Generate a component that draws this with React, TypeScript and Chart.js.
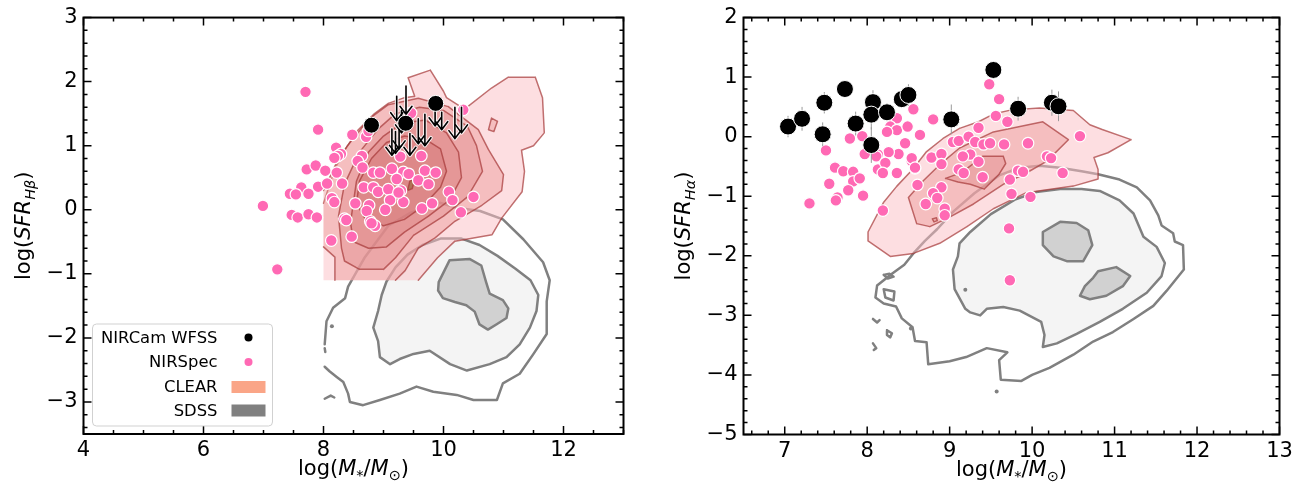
import React, { useEffect, useRef } from 'react';
import { Chart, registerables } from 'chart.js';

Chart.register(...registerables);

type Pt = [number, number];

const FAMILY = "'DejaVu Sans', 'Liberation Sans', sans-serif";

// ---------------- Left panel: SFR from H-beta ----------------
const hbMassTicks = [4, 6, 8, 10, 12];
const hbSfrTicks = [-3, -2, -1, 0, 1, 2, 3];

const hbNirspec: Pt[] = [
  [7.70, 1.84], [7.91, 1.25], [8.48, 1.17], [8.71, 1.14], [8.75, 1.23], [8.21, 0.97], [8.29, 0.87],
  [8.24, 0.84], [8.18, 0.81], [8.64, 0.84], [8.57, 0.76], [7.72, 0.63], [7.87, 0.69], [8.03, 0.61],
  [8.22, 0.58], [8.65, 0.66], [8.83, 0.58], [8.94, 0.58], [9.14, 0.64], [9.33, 0.59], [9.42, 0.56],
  [9.28, 0.83], [9.63, 0.84], [9.69, 0.61], [9.87, 0.58], [7.63, 0.35], [7.44, 0.25], [7.54, 0.24],
  [7.75, 0.25], [7.91, 0.36], [8.06, 0.41], [8.31, 0.41], [8.67, 0.35], [8.83, 0.35], [8.91, 0.28],
  [9.08, 0.32], [9.22, 0.48], [9.58, 0.46], [9.75, 0.40], [8.14, 0.18], [8.18, 0.12], [8.53, 0.10],
  [8.76, 0.07], [9.11, 0.15], [9.33, 0.12], [9.29, 0.30], [9.64, 0.02], [9.81, 0.10], [10.09, 0.28],
  [10.15, 0.15], [10.29, -0.04], [10.50, 0.20], [7.47, -0.08], [7.57, -0.12], [7.75, -0.07],
  [7.89, -0.12], [8.35, -0.14], [8.72, -0.02], [8.78, -0.18], [8.86, -0.25], [9.03, 0.00],
  [8.47, -0.42], [8.13, -0.48], [7.23, -0.93], [6.99, 0.06], [10.33, 1.56], [9.46, 1.51],
  [8.38, -0.16], [8.80, -0.21], [9.25, 0.27],
];
const hbWfss: Pt[] = [[8.80, 1.32], [9.37, 1.35], [9.87, 1.66]];

// upper limits: arrow from the limit value down to its tip
const hbLimitMass = [9.22, 9.375, 9.30, 9.14, 9.20, 9.26, 9.44, 9.58, 9.69, 9.86, 9.97, 10.19, 10.30];
const hbLimitTop = [1.77, 1.93, 1.55, 1.26, 1.22, 1.28, 1.19, 1.42, 1.49, 1.54, 1.52, 1.60, 1.60];
const hbLimitTip = [1.39, 1.49, 1.20, 0.85, 0.88, 0.95, 0.85, 1.03, 1.00, 1.31, 1.25, 1.11, 1.20];

// CLEAR density contours (outermost first)
const hbClear: Pt[][] = [
  [[8.0, -1.1], [8.0, 0.1], [8.08, 0.33], [8.19, 0.64], [8.36, 0.94], [8.58, 1.25], [8.85, 1.5], [9.08, 1.66],
   [9.35, 1.75], [9.52, 1.77], [9.41, 2.06], [9.78, 2.18], [10.0, 1.85], [10.05, 1.75], [10.35, 1.57],
   [10.8, 1.9], [11.08, 2.07], [11.53, 2.07], [11.65, 1.75], [11.68, 1.2], [11.5, 1.0], [11.3, 0.93],
   [11.35, 0.6], [11.31, 0.28], [10.97, -0.13], [10.81, -0.39], [10.19, -0.49], [9.9, -0.75], [9.58, -1.1]],
  [[8.19, -1.1], [8.19, -0.74], [8.0, -0.58], [8.0, 0.3], [8.2, 0.7], [8.4, 1.0], [8.75, 1.41], [9.08, 1.64],
   [9.58, 1.74], [10.08, 1.61], [10.58, 1.25], [10.75, 0.94], [11.0, 0.55], [10.97, 0.3], [10.64, 0.07],
   [10.19, -0.18], [9.86, -0.44], [9.58, -0.6], [9.36, -0.95], [9.2, -1.1]],
  [[8.3, -0.6], [8.35, -0.8], [8.6, -0.93], [9.0, -0.93], [9.2, -0.75], [9.5, -0.4], [10.0, -0.1], [10.4, 0.2],
   [10.65, 0.6], [10.55, 1.0], [10.4, 1.3], [10.0, 1.55], [9.6, 1.6], [9.2, 1.5], [8.9, 1.25], [8.6, 0.9],
   [8.35, 0.4], [8.25, -0.1]],
  [[8.45, -0.2], [8.5, -0.5], [8.75, -0.6], [9.05, -0.58], [9.35, -0.35], [9.75, -0.1], [10.1, 0.15],
   [10.3, 0.5], [10.25, 0.9], [10.05, 1.2], [9.7, 1.4], [9.3, 1.35], [9.0, 1.15], [8.75, 0.9], [8.55, 0.45]],
  [[8.55, 0.1], [8.7, -0.15], [9.0, -0.25], [9.35, -0.15], [9.65, 0.05], [9.95, 0.35], [10.05, 0.6],
   [9.95, 0.95], [9.7, 1.1], [9.35, 1.15], [9.05, 1.05], [8.8, 0.8], [8.6, 0.45]],
  [[9.4, 0.3], [9.48, 0.33], [9.52, 0.48], [9.44, 0.45]],
  [[10.75, 1.25], [10.8, 1.43], [10.9, 1.38], [10.84, 1.22]],
];
const hbClearLevel = [0, 1, 2, 3, 4, 5, 1];

// SDSS contours
const hbSdssLines: Pt[][] = [
  [[8.02, -2.1], [8.05, -1.74], [8.16, -1.53], [8.36, -1.38], [8.41, -1.2], [8.69, -0.74], [9.08, -0.25],
   [9.44, -0.05], [9.94, 0.11], [10.22, 0.03], [10.61, -0.02], [10.99, -0.15], [11.33, -0.46], [11.66, -0.82],
   [11.77, -1.1], [11.72, -1.43], [11.72, -1.94], [11.5, -2.25], [11.27, -2.56], [10.99, -2.71], [10.89, -2.97],
   [10.5, -2.97], [10.22, -2.89], [9.83, -2.84], [9.55, -2.76], [9.27, -2.87], [8.94, -2.97], [8.66, -3.05],
   [8.44, -3.0], [8.41, -2.87], [8.33, -2.69], [8.22, -2.61], [8.1, -2.52], [8.02, -2.45]],
  [[8.02, -2.95], [8.12, -2.9], [8.18, -2.93]],
  [[8.02, -2.16], [8.03, -2.22]],
];
const hbSdssMiddle: Pt[] = [
  [9.05, -1.12], [9.2, -0.9], [9.4, -0.7], [9.65, -0.55], [9.95, -0.45], [10.3, -0.45], [10.6, -0.55],
  [10.9, -0.72], [11.2, -0.92], [11.45, -1.1], [11.58, -1.33], [11.55, -1.58], [11.44, -1.84], [11.27, -2.1],
  [11.05, -2.3], [10.77, -2.41], [10.39, -2.51], [10.11, -2.41], [9.77, -2.2], [9.5, -2.25], [9.27, -2.33],
  [9.11, -2.41], [8.94, -2.3], [8.91, -2.05], [8.83, -1.84], [8.91, -1.58], [8.97, -1.33],
];
const hbSdssInner: Pt[][] = [
  [[9.92, -1.13], [10.1, -0.79], [10.44, -0.77], [10.63, -0.87], [10.71, -1.13], [10.77, -1.31], [10.99, -1.41],
   [11.08, -1.54], [11.05, -1.69], [10.88, -1.79], [10.74, -1.87], [10.6, -1.79], [10.52, -1.59], [10.38, -1.49],
   [10.19, -1.44], [9.99, -1.38], [9.91, -1.26]],
];
const hbSdssDots: Pt[] = [[8.14, -1.82]];

// ---------------- Right panel: SFR from H-alpha ----------------
const haMassTicks = [7, 8, 9, 10, 11, 12, 13];
const haSfrTicks = [-5, -4, -3, -2, -1, 0, 1, 2];

const haNirspec: Pt[] = [
  [9.48, 0.88], [9.60, 0.63], [9.56, 0.35], [9.70, 0.25], [9.35, 0.15], [8.80, 0.29], [8.56, 0.46],
  [8.64, 0.03], [8.46, -0.11], [8.38, -0.29], [8.26, -0.26], [8.13, -0.30], [8.30, 0.30], [8.36, 0.31],
  [8.28, 0.17], [8.36, 0.11], [8.24, 0.08], [8.49, 0.17], [7.89, 0.17], [7.94, 0.01], [7.79, -0.03],
  [7.50, -0.23], [7.97, -0.29], [8.09, -0.14], [8.11, -0.33], [8.13, -0.55], [8.22, -0.44], [8.19, -0.61],
  [8.36, -0.61], [8.54, -0.41], [8.58, -0.53], [7.61, -0.52], [7.71, -0.58], [7.83, -0.59], [7.83, -0.75],
  [7.77, -0.90], [7.91, -0.70], [7.54, -0.79], [7.64, -1.02], [7.62, -1.07], [7.95, -0.99], [7.30, -1.12],
  [8.61, -0.81], [9.04, -0.09], [9.11, -0.07], [9.23, 0.00], [9.31, -0.09], [9.41, -0.13], [9.49, -0.11],
  [9.66, -0.13], [8.78, -0.35], [8.90, -0.29], [8.90, -0.46], [9.11, -0.55], [9.17, -0.61], [9.25, -0.30],
  [9.35, -0.42], [9.40, -0.68], [9.73, -0.72], [8.90, -0.85], [8.80, -0.95], [8.85, -1.03], [8.71, -1.13],
  [10.58, 0.01], [10.18, -0.33], [10.23, -0.36], [10.37, -0.61], [9.95, -0.11], [9.83, -0.57], [9.89, -0.59],
  [9.75, -0.96], [9.98, -1.01], [9.72, -1.54], [9.73, -2.41], [9.16, -0.33], [8.54, -0.36], [8.94, -1.21],
  [8.94, -1.32], [8.19, -1.24], [8.58, -0.52],
];
const haWfss: Pt[] = [
  [7.04, 0.17], [7.21, 0.30], [7.48, 0.57], [7.46, 0.04], [7.73, 0.80], [7.86, 0.22], [8.07, 0.58],
  [8.05, 0.37], [8.24, 0.41], [8.05, -0.14], [8.42, 0.63], [8.50, 0.70], [9.02, 0.29], [9.53, 1.12],
  [9.83, 0.47], [10.24, 0.57], [10.32, 0.51],
];
const haWfssErr = [0.18, 0.2, 0.18, 0.2, 0.1, 0.2, 0.2, 0.25, 0.15, 0.3, 0.15, 0.18, 0.25, 0.1, 0.2, 0.22, 0.25];

const haClear: Pt[][] = [
  [[8.01, -1.6], [8.2, -1.1], [8.36, -0.83], [8.55, -0.55], [8.72, -0.25], [8.92, -0.03], [9.12, 0.14],
   [9.35, 0.25], [9.53, 0.38], [9.75, 0.45], [10.09, 0.48], [10.5, 0.44], [10.7, 0.2], [10.85, 0.12],
   [11.2, -0.05], [10.92, -0.27], [10.75, -0.35], [10.8, -0.55], [10.8, -0.71], [10.5, -0.83], [9.93, -0.94],
   [9.53, -1.21], [9.21, -1.51], [8.88, -1.79], [8.56, -1.96], [8.28, -2.01], [8.01, -1.75]],
  [[8.6, -1.46], [8.5, -1.02], [8.68, -0.74], [8.88, -0.47], [9.12, -0.19], [9.53, 0.08], [10.13, 0.25],
   [10.44, -0.05], [10.18, -0.41], [9.93, -0.61], [9.65, -0.8], [9.29, -1.13], [9.0, -1.35], [8.76, -1.51]],
  [[8.95, -0.7], [9.15, -0.6], [9.4, -0.33], [9.65, -0.33], [9.68, -0.45], [9.6, -0.63], [9.42, -0.88],
   [9.25, -0.8], [9.1, -0.76]],
  [[8.79, -1.38], [8.84, -1.36], [8.85, -1.41], [8.81, -1.43]],
];
const haClearLevel = [0, 1, 2, 2];

const haSdssLines: Pt[][] = [
  [[8.56, -1.96], [8.7, -1.75], [8.85, -1.55], [9.05, -1.25], [9.3, -0.95], [9.6, -0.65], [9.85, -0.52],
   [10.09, -0.49], [10.34, -0.52], [10.6, -0.58], [10.8, -0.63], [11.06, -0.72], [11.27, -0.85], [11.43, -1.07],
   [11.53, -1.32], [11.57, -1.49], [11.71, -1.62], [11.73, -1.76], [11.83, -1.82], [11.84, -2.23],
   [11.73, -2.42], [11.63, -2.59], [11.47, -2.84], [11.23, -3.06], [10.98, -3.28], [10.74, -3.44],
   [10.5, -3.66], [10.21, -3.88], [10.0, -4.0], [9.87, -4.1], [9.62, -4.08], [9.6, -3.75], [9.7, -3.62],
   [9.45, -3.55], [9.2, -3.7], [9.0, -3.77], [8.74, -3.82], [8.72, -3.45], [8.58, -3.43], [8.55, -3.2],
   [8.42, -3.05], [8.35, -2.85], [8.2, -2.8], [8.1, -2.7], [8.12, -2.5], [8.3, -2.3], [8.45, -2.15], [8.56, -1.96]],
  [[8.2, -2.32], [8.27, -2.3], [8.32, -2.35], [8.25, -2.38], [8.2, -2.32]],
  [[8.2, -2.56], [8.33, -2.6], [8.32, -2.75], [8.22, -2.7], [8.2, -2.56]],
  [[8.07, -3.06], [8.12, -3.12], [8.15, -3.08]],
  [[8.24, -3.25], [8.3, -3.3], [8.28, -3.37], [8.24, -3.33], [8.24, -3.25]],
  [[8.07, -3.47], [8.11, -3.55], [8.08, -3.58]],
];
const haSdssMiddle: Pt[] = [
  [9.12, -1.79], [9.25, -1.6], [9.5, -1.3], [9.8, -1.05], [10.05, -0.93], [10.34, -0.88], [10.6, -0.88],
  [10.82, -0.91], [11.06, -1.07], [11.23, -1.29], [11.35, -1.68], [11.51, -1.85], [11.61, -2.12], [11.57, -2.34],
  [11.39, -2.62], [11.1, -2.89], [10.82, -3.11], [10.54, -3.31], [10.3, -3.47], [10.13, -3.53], [10.15, -3.33],
  [10.11, -3.11], [9.85, -2.92], [9.65, -2.86], [9.45, -2.89], [9.37, -3.0], [9.25, -2.95], [9.19, -2.89],
  [9.06, -2.56], [9.04, -2.23], [9.1, -2.01],
];
const haSdssInner: Pt[][] = [
  [[10.34, -1.43], [10.54, -1.45], [10.68, -1.57], [10.73, -1.82], [10.62, -2.09], [10.42, -2.09],
   [10.26, -2.01], [10.13, -1.82], [10.13, -1.6]],
  [[10.8, -2.26], [11.02, -2.19], [11.19, -2.34], [11.1, -2.51], [10.9, -2.67], [10.7, -2.73], [10.58, -2.67],
   [10.64, -2.51], [10.74, -2.37]],
];
const haSdssDots: Pt[] = [[9.19, -2.57], [8.53, -3.22], [9.57, -4.28]];

const legendLabels = ['NIRCam WFSS', 'NIRSpec', 'CLEAR', 'SDSS'];

// ---------------- styling ----------------
const PINK = '#ff69b4';
const CLEAR_FILLS = [
  'rgba(252,190,196,0.5)',
  'rgba(235,150,150,0.45)',
  'rgba(225,135,135,0.42)',
  'rgba(215,120,120,0.35)',
  'rgba(205,110,110,0.35)',
  'rgba(160,110,70,0.75)',
];
const CLEAR_EDGE = 'rgba(165,55,55,0.7)';
const SDSS_EDGE = '#808080';

interface Panel {
  width: number;
  height: number;
  area: { left: number; right: number; top: number; bottom: number };
  xMin: number; xMax: number; yMin: number; yMax: number;
  xTicks: number[]; yTicks: number[];
  xMinor: number; yMinor: number;
  lineSub: string;
  pink: Pt[]; black: Pt[]; blackErr?: number[]; blackRadius: number;
  limits?: { mass: number[]; top: number[]; tip: number[] };
  clear: Pt[][]; clearLevel: number[]; grid?: { xmin: number; ymin: number };
  sdssLines: Pt[][]; sdssMiddle: Pt[]; sdssInner: Pt[][]; sdssDots: Pt[];
  legend: boolean;
}

type Seg = { t: string; it?: boolean; sub?: boolean };

function segFont(s: Seg) {
  return `${s.it ? 'italic ' : ''}${s.sub ? 14.5 : 21}px ${FAMILY}`;
}

function drawMath(ctx: CanvasRenderingContext2D, segs: Seg[], cx: number, cy: number, rotate: boolean) {
  ctx.save();
  ctx.translate(cx, cy);
  if (rotate) ctx.rotate(-Math.PI / 2);
  let total = 0;
  for (const s of segs) { ctx.font = segFont(s); total += ctx.measureText(s.t).width; }
  let x = -total / 2;
  ctx.textAlign = 'left';
  ctx.textBaseline = 'alphabetic';
  ctx.fillStyle = '#000';
  for (const s of segs) {
    ctx.font = segFont(s);
    ctx.fillText(s.t, x, s.sub ? 5 : 0);
    x += ctx.measureText(s.t).width;
  }
  ctx.restore();
}

function steps(min: number, max: number, step: number) {
  const out: number[] = [];
  for (let k = Math.ceil(min / step - 1e-9); k * step <= max + 1e-9; k++) out.push(+(k * step).toFixed(6));
  return out;
}

function fmt(v: number) {
  return v < 0 ? '\u2212' + Math.abs(v) : String(v);
}

function makePlugin(p: Panel) {
  const path = (chart: Chart, pts: Pt[], close: boolean) => {
    const xs = chart.scales.x, ys = chart.scales.y, ctx = chart.ctx;
    ctx.beginPath();
    pts.forEach((q, i) => {
      const px = xs.getPixelForValue(q[0]);
      const py = ys.getPixelForValue(q[1]);
      if (i === 0) ctx.moveTo(px, py); else ctx.lineTo(px, py);
    });
    if (close) ctx.closePath();
  };

  return {
    id: 'panelDecor',
    beforeDatasetsDraw(chart: Chart) {
      const { ctx, chartArea: a } = chart;
      const xs = chart.scales.x, ys = chart.scales.y;
      ctx.save();
      ctx.beginPath();
      ctx.rect(a.left, a.top, a.right - a.left, a.bottom - a.top);
      ctx.clip();
      ctx.lineJoin = 'round';
      ctx.lineCap = 'round';

      // SDSS
      ctx.lineWidth = 2.5;
      ctx.strokeStyle = SDSS_EDGE;
      p.sdssLines.forEach((l) => { path(chart, l, false); ctx.stroke(); });
      path(chart, p.sdssMiddle, true);
      ctx.fillStyle = '#f4f4f4';
      ctx.fill();
      ctx.stroke();
      p.sdssInner.forEach((l) => {
        path(chart, l, true);
        ctx.fillStyle = '#d1d1d1';
        ctx.fill();
        ctx.stroke();
      });
      ctx.fillStyle = SDSS_EDGE;
      p.sdssDots.forEach((d) => {
        ctx.beginPath();
        ctx.arc(xs.getPixelForValue(d[0]), ys.getPixelForValue(d[1]), 2, 0, Math.PI * 2);
        ctx.fill();
      });

      // CLEAR
      p.clear.forEach((poly, i) => {
        path(chart, poly, true);
        ctx.fillStyle = CLEAR_FILLS[p.clearLevel[i]];
        ctx.fill();
        ctx.beginPath();
        for (let k = 0; k < poly.length; k++) {
          const s = poly[k], e = poly[(k + 1) % poly.length];
          const g = p.grid;
          if (g && ((s[1] <= g.ymin + 1e-6 && e[1] <= g.ymin + 1e-6) || (s[0] <= g.xmin + 1e-6 && e[0] <= g.xmin + 1e-6))) continue;
          ctx.moveTo(xs.getPixelForValue(s[0]), ys.getPixelForValue(s[1]));
          ctx.lineTo(xs.getPixelForValue(e[0]), ys.getPixelForValue(e[1]));
        }
        ctx.strokeStyle = CLEAR_EDGE;
        ctx.lineWidth = 1.5;
        ctx.stroke();
      });
      ctx.restore();
    },
    afterDatasetDraw(chart: Chart, args: { index: number }) {
      if (args.index !== 1) return;
      const { ctx } = chart;
      const xs = chart.scales.x, ys = chart.scales.y;
      ctx.save();
      if (p.blackErr) {
        ctx.strokeStyle = '#9a9a9a';
        ctx.lineWidth = 1;
        p.black.forEach((b, i) => {
          const px = xs.getPixelForValue(b[0]);
          ctx.beginPath();
          ctx.moveTo(px, ys.getPixelForValue(b[1] + p.blackErr![i]));
          ctx.lineTo(px, ys.getPixelForValue(b[1] - p.blackErr![i]));
          ctx.stroke();
        });
      }
      if (p.limits) {
        const L = p.limits;
        const drawArrow = (color: string, w: number) => {
          ctx.strokeStyle = color;
          ctx.lineWidth = w;
          ctx.lineCap = 'round';
          ctx.lineJoin = 'round';
          L.mass.forEach((m, i) => {
            const px = xs.getPixelForValue(m);
            const y0 = ys.getPixelForValue(L.top[i]);
            const y1 = ys.getPixelForValue(L.tip[i]);
            ctx.beginPath();
            ctx.moveTo(px, y0);
            ctx.lineTo(px, y1);
            ctx.moveTo(px - 6, y1 - 8);
            ctx.lineTo(px, y1);
            ctx.lineTo(px + 6, y1 - 8);
            ctx.stroke();
          });
        };
        drawArrow('rgba(255,255,255,0.9)', 3.6);
        drawArrow('#000', 1.6);
      }
      ctx.restore();
    },
    afterDraw(chart: Chart) {
      const { ctx, chartArea: a } = chart;
      const xs = chart.scales.x, ys = chart.scales.y;
      ctx.save();
      ctx.strokeStyle = '#000';
      ctx.lineWidth = 1.5;
      ctx.beginPath();
      const tick = (vals: number[], len: number, horiz: boolean) => {
        vals.forEach((v) => {
          if (horiz) {
            const px = xs.getPixelForValue(v);
            ctx.moveTo(px, a.bottom); ctx.lineTo(px, a.bottom - len);
            ctx.moveTo(px, a.top); ctx.lineTo(px, a.top + len);
          } else {
            const py = ys.getPixelForValue(v);
            ctx.moveTo(a.left, py); ctx.lineTo(a.left + len, py);
            ctx.moveTo(a.right, py); ctx.lineTo(a.right - len, py);
          }
        });
      };
      tick(steps(p.xMin, p.xMax, p.xMinor).filter((v) => !p.xTicks.includes(v)), 4, true);
      tick(steps(p.yMin, p.yMax, p.yMinor).filter((v) => !p.yTicks.includes(v)), 4, false);
      tick(p.xTicks, 8, true);
      tick(p.yTicks, 8, false);
      ctx.stroke();
      ctx.lineWidth = 2;
      ctx.strokeRect(a.left, a.top, a.right - a.left, a.bottom - a.top);

      // axis titles
      const cxm = (a.left + a.right) / 2;
      drawMath(ctx, [
        { t: 'log(' }, { t: 'M', it: true }, { t: '*', sub: true }, { t: '/' },
        { t: 'M', it: true }, { t: '\u2299', sub: true }, { t: ')' },
      ], cxm, a.bottom + 41, false);
      drawMath(ctx, [
        { t: 'log(' }, { t: 'SFR', it: true }, { t: p.lineSub, it: true, sub: true }, { t: ')' },
      ], a.left - 54, (a.top + a.bottom) / 2, true);

      if (p.legend) {
        const bx = a.left + 9, by = a.bottom - 110, bw = 180, bh = 102;
        ctx.beginPath();
        const r = 4;
        ctx.moveTo(bx + r, by);
        ctx.arcTo(bx + bw, by, bx + bw, by + bh, r);
        ctx.arcTo(bx + bw, by + bh, bx, by + bh, r);
        ctx.arcTo(bx, by + bh, bx, by, r);
        ctx.arcTo(bx, by, bx + bw, by, r);
        ctx.closePath();
        ctx.fillStyle = 'rgba(255,255,255,0.8)';
        ctx.fill();
        ctx.strokeStyle = 'rgba(204,204,204,0.9)';
        ctx.lineWidth = 1;
        ctx.stroke();
        const rows = [13.5, 38, 63, 86.5];
        ctx.font = `16.4px ${FAMILY}`;
        ctx.textAlign = 'right';
        ctx.textBaseline = 'middle';
        legendLabels.forEach((lab, i) => {
          const yy = by + rows[i];
          ctx.fillStyle = '#000';
          ctx.fillText(lab, bx + 125, yy + 1);
          if (i === 0 || i === 1) {
            ctx.beginPath();
            ctx.arc(bx + 156, yy, 4, 0, Math.PI * 2);
            ctx.fillStyle = i === 0 ? '#000' : PINK;
            ctx.fill();
          } else {
            ctx.fillStyle = i === 2 ? '#faa587' : '#808080';
            ctx.fillRect(bx + 139, yy - 6, 34, 12);
          }
        });
      }
      ctx.restore();
    },
  };
}

function buildConfig(p: Panel) {
  const fixTicks = (vals: number[]) => (scale: any) => {
    scale.ticks = vals.map((v) => ({ value: v }));
  };
  return {
    type: 'scatter' as const,
    data: {
      datasets: [
        {
          label: 'NIRCam WFSS',
          data: p.black.map(([x, y]) => ({ x, y })),
          pointRadius: p.blackRadius,
          pointBackgroundColor: '#000',
          pointBorderColor: '#fff',
          pointBorderWidth: 1,
        },
        {
          label: 'NIRSpec',
          data: p.pink.map(([x, y]) => ({ x, y })),
          pointRadius: 5.8,
          pointBackgroundColor: PINK,
          pointBorderColor: '#fff',
          pointBorderWidth: 1.2,
        },
      ],
    },
    options: {
      animation: false,
      responsive: false,
      devicePixelRatio: 1,
      events: [],
      layout: { padding: { left: 0, top: p.area.top, right: p.width - p.area.right, bottom: 0 } },
      plugins: { legend: { display: false }, tooltip: { enabled: false } },
      scales: {
        x: {
          type: 'linear',
          min: p.xMin,
          max: p.xMax,
          grid: { display: false, drawTicks: false },
          border: { display: false },
          afterBuildTicks: fixTicks(p.xTicks),
          afterFit: (s: any) => { s.height = p.height - p.area.bottom; },
          ticks: {
            autoSkip: false,
            maxRotation: 0,
            padding: 5,
            color: '#000',
            font: { family: FAMILY, size: 21, lineHeight: 1.1 },
            callback: (v: any) => fmt(Number(v)),
          },
        },
        y: {
          type: 'linear',
          min: p.yMin,
          max: p.yMax,
          grid: { display: false, drawTicks: false },
          border: { display: false },
          afterBuildTicks: fixTicks(p.yTicks),
          afterFit: (s: any) => { s.width = p.area.left; },
          ticks: {
            autoSkip: false,
            padding: 6,
            color: '#000',
            font: { family: FAMILY, size: 21, lineHeight: 1.1 },
            callback: (v: any) => fmt(Number(v)),
          },
        },
      },
    },
    plugins: [makePlugin(p)],
  };
}

const leftPanel: Panel = {
  width: 656, height: 491,
  area: { left: 83.5, right: 623.5, top: 12, bottom: 434 },
  xMin: 4, xMax: 13, yMin: -3.5, yMax: 3,
  xTicks: hbMassTicks, yTicks: hbSfrTicks, xMinor: 0.5, yMinor: 0.2,
  lineSub: 'H\u03b2',
  pink: hbNirspec, black: hbWfss, blackRadius: 8,
  limits: { mass: hbLimitMass, top: hbLimitTop, tip: hbLimitTip },
  clear: hbClear, clearLevel: hbClearLevel, grid: { xmin: 8.0, ymin: -1.1 },
  sdssLines: hbSdssLines, sdssMiddle: hbSdssMiddle, sdssInner: hbSdssInner, sdssDots: hbSdssDots,
  legend: true,
};

const rightPanel: Panel = {
  width: 656, height: 491,
  area: { left: 87.5, right: 623.5, top: 11.5, bottom: 434.5 },
  xMin: 6.5, xMax: 13, yMin: -5, yMax: 2,
  xTicks: haMassTicks, yTicks: haSfrTicks, xMinor: 0.2, yMinor: 0.2,
  lineSub: 'H\u03b1',
  pink: haNirspec, black: haWfss, blackErr: haWfssErr, blackRadius: 8.5,
  clear: haClear, clearLevel: haClearLevel,
  sdssLines: haSdssLines, sdssMiddle: haSdssMiddle, sdssInner: haSdssInner, sdssDots: haSdssDots,
  legend: false,
};

function PanelChart({ panel, left }: { panel: Panel; left: number }) {
  const ref = useRef<HTMLCanvasElement | null>(null);
  useEffect(() => {
    if (!ref.current) return;
    const chart = new Chart(ref.current, buildConfig(panel) as any);
    return () => chart.destroy();
  }, [panel]);
  return (
    <canvas
      ref={ref}
      width={panel.width}
      height={panel.height}
      style={{ position: 'absolute', left, top: 0, width: panel.width, height: panel.height }}
    />
  );
}

export default function App() {
  return (
    <div style={{ position: 'absolute', left: 0, top: 0, width: 1312, height: 491, background: '#fff' }}>
      <PanelChart panel={leftPanel} left={0} />
      <PanelChart panel={rightPanel} left={656} />
    </div>
  );
}
